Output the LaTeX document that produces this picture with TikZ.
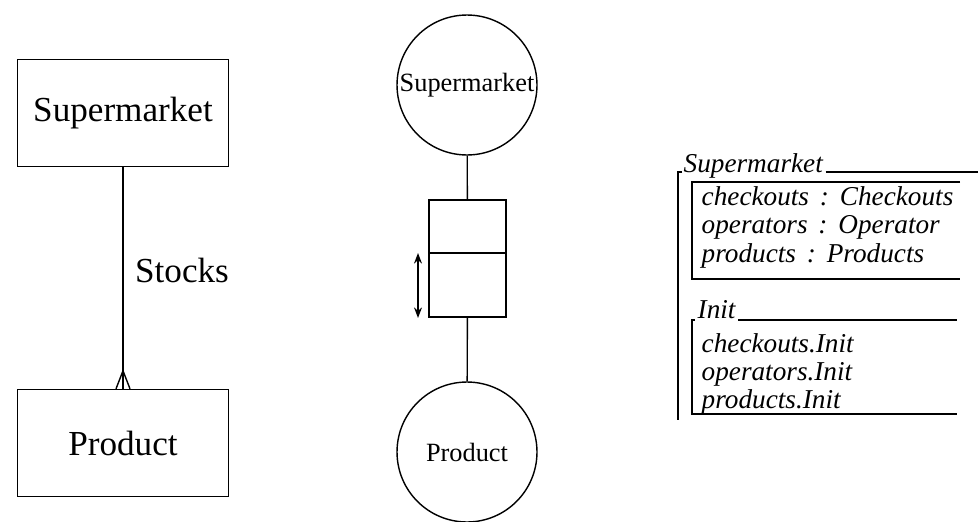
\documentclass[tikz,border=0pt]{standalone}
\usepackage{fontspec}
\setmainfont{Liberation Serif}
\usetikzlibrary{positioning, arrows.meta}

\begin{document}
\begin{tikzpicture}[x=0.02cm, y=-0.02cm, line width=0.8pt,
    entity/.style={draw, minimum width=4.22cm, minimum height=2.14cm, font=\fontsize{20}{23}\selectfont},
    blob/.style={draw, circle, minimum size=2.8cm, inner sep=0pt, font=\fontsize{15}{18}\selectfont},
    zline/.style={anchor=base west, inner sep=0pt, font=\fontsize{15.5}{18}\selectfont\itshape}]

    \useasboundingbox (0,0) rectangle (980,521);

    % ER
    \node[entity] (sm) at (123,113) {Supermarket};
    \node[entity] (pr) at (123,443) {Product};
    \draw (sm) -- (pr);
    \draw (pr.north) ++(-7,0) -- ++(7,-18) -- ++(7,18);
    \node[font=\fontsize{20}{23}\selectfont] (stk) at (182,270) {Stocks};

    % Relazione
    \node[blob] (smc) at (467,85) {Supermarket};
    \node[blob] (prc) at (467,452) {Product};
    \node[draw, minimum width=1.54cm, minimum height=2.34cm] (rel) at (467.5,258.5) {};
    \draw (rel.west) ++(0,-5.5) -- ++(77,0);
    \draw (smc) -- (rel);
    \draw (rel) -- (prc);
    \coordinate (up) at (418,253);
    \coordinate (dn) at (418,318);
    \draw[line width=1.6pt, {Stealth[length=6pt]}-{Stealth[length=6pt]}] (up) -- (dn);

    % Schema
    \node[zline] (st) at (683,172) {Supermarket};
    \coordinate (stend) at (978,172);
    \draw (st.base east) ++(2,0) -- (stend);
    \draw[line width=1.4pt] (682,172) -- (678,172) -- (678,420);
    \draw (960,182) -- (692,182) -- (692,279) -- (960,279);
    \node[zline] (d1) at (701,205) {checkouts\hspace{0.4em}:\hspace{0.4em}Checkouts};
    \node[zline] (d2) at (701,233) {operators\hspace{0.4em}:\hspace{0.4em}Operator};
    \node[zline] (d3) at (701,262) {products\hspace{0.4em}:\hspace{0.4em}Products};

    \node[zline] (it) at (697,318) {Init};
    \coordinate (itend) at (957,320);
    \draw (it.base east) ++(2,2) -- (itend);
    \draw (695,320) -- (692,320) -- (692,414) -- (957,414);
    \node[zline] (p1) at (701,352) {checkouts.Init};
    \node[zline] (p2) at (701,380) {operators.Init};
    \node[zline] (p3) at (701,408) {products.Init};
\end{tikzpicture}
\end{document}
